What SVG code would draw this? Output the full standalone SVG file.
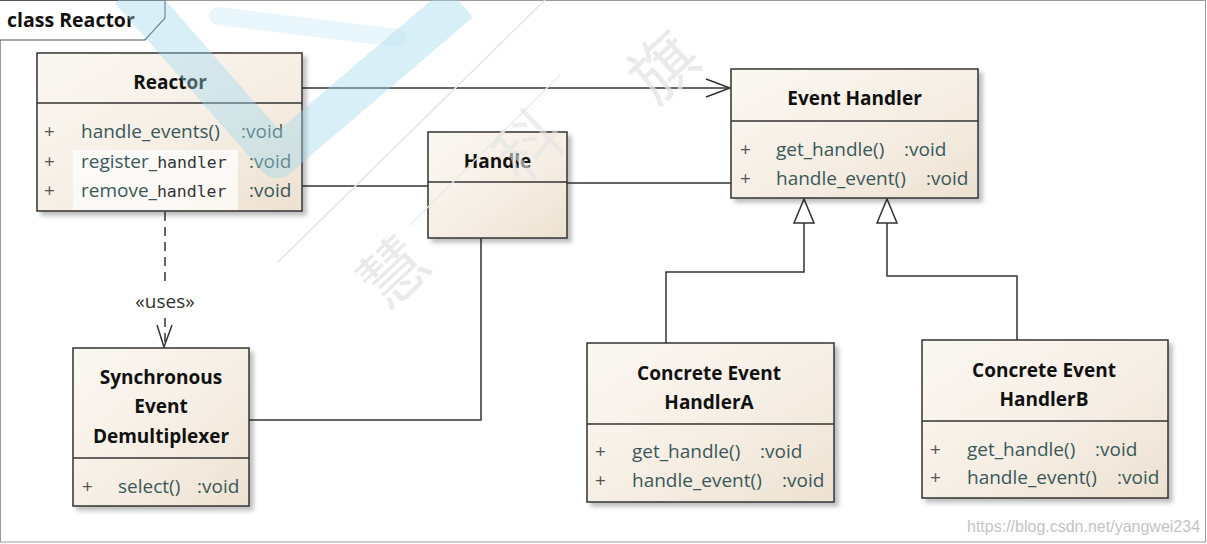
<svg xmlns="http://www.w3.org/2000/svg" width="1207" height="544" viewBox="0 0 1207 544">
<defs>
<linearGradient id="boxg" x1="0" y1="0" x2="1" y2="1">
<stop offset="0" stop-color="#fbf8f3"/>
<stop offset="0.6" stop-color="#f5ede3"/>
<stop offset="1" stop-color="#ede1d1"/>
</linearGradient>
<filter id="sh" x="-10%" y="-10%" width="130%" height="130%">
<feDropShadow dx="4" dy="4" stdDeviation="2" flood-color="#000" flood-opacity="0.25"/>
</filter>
</defs>
<style>
.box{fill:url(#boxg);stroke:#333;stroke-width:1.5;filter:url(#sh)}
.sep{stroke:#333;stroke-width:1.5}
.title{font-family:"Open Sans","Noto Sans",sans-serif;font-weight:bold;font-size:19px;fill:#111;text-anchor:middle}
.mem{font-family:"Open Sans","Noto Sans",sans-serif;font-size:19px;fill:#3b5858}
.plus{font-family:"Open Sans","Noto Sans",sans-serif;font-size:19px;fill:#555}
.mono{font-family:"DejaVu Sans Mono","Liberation Mono",monospace;font-size:16.5px;fill:#333}
.con{fill:none;stroke:#333;stroke-width:1.5}
.wm{font-family:"Noto Sans CJK SC",sans-serif;font-size:66px;fill:#e4e4e4}
</style>
<rect x="0" y="0" width="1207" height="544" fill="#fff"/>
<rect x="0.5" y="0.5" width="1205" height="541.5" fill="none" stroke="#999" stroke-width="1"/>
<g id="frame-tab">
<path d="M0,0.5 L165,0.5 L165,18 L145,40 L0,40" fill="#fff" stroke="#555" stroke-width="1.2"/>
<text x="7" y="27" style="font-family:'Open Sans','Noto Sans',sans-serif;font-weight:bold;font-size:19.5px;fill:#111">class Reactor</text>
</g>
<g id="connectors">
<path class="con" d="M302,88 L730,88"/>
<path d="M706,79 L730,88 L706,97" class="con"/>
<path class="con" d="M302,186 L428,186"/>
<path class="con" d="M567,183 L731,183"/>
<path class="con" d="M481,238 L481,420 L249,420"/>
<path class="con" d="M165,212 L165,282" stroke-dasharray="9,6"/>
<path class="con" d="M165,318 L165,347" stroke-dasharray="9,6"/>
<path class="con" d="M157,325 L164,347 L172,325"/>
<text x="165" y="308" style="font-family:'Open Sans','Noto Sans',sans-serif;font-size:19px;fill:#333;text-anchor:middle">«uses»</text>
<path class="con" d="M666,343 L666,272 L804,272 L804,223"/>
<path d="M804,199 L794,223 L814,223 Z" fill="#fff" stroke="#333" stroke-width="1.5"/>
<path class="con" d="M1017,340 L1017,276 L887,276 L887,223"/>
<path d="M887,199 L877,223 L897,223 Z" fill="#fff" stroke="#333" stroke-width="1.5"/>
</g>
<g id="reactor">
<rect class="box" x="37" y="53" width="265" height="158"/>
<line class="sep" x1="37" y1="103" x2="302" y2="103"/>
<text class="title" x="170" y="89">Reactor</text>
<rect x="73" y="150" width="165" height="30" fill="#fff" opacity="0.7"/>
<rect x="73" y="180" width="165" height="30" fill="#fff" opacity="0.7"/>
<text class="plus" x="44" y="138">+</text>
<text class="mem" x="81" y="138">handle_events()</text>
<text class="mem" x="241" y="138">:void</text>
<text class="plus" x="44" y="168">+</text>
<text class="mem" x="81" y="168">register_<tspan class="mono">handler</tspan></text>
<text class="mem" x="249" y="168">:void</text>
<text class="plus" x="44" y="197">+</text>
<text class="mem" x="81" y="197">remove_<tspan class="mono">handler</tspan></text>
<text class="mem" x="249" y="197">:void</text>
</g>
<g id="handle">
<rect class="box" x="428" y="132" width="139" height="106"/>
<line class="sep" x1="428" y1="182" x2="567" y2="182"/>
<text class="title" x="497.5" y="168">Handle</text>
</g>
<g id="event-handler">
<rect class="box" x="731" y="69" width="247" height="129"/>
<line class="sep" x1="731" y1="121" x2="978" y2="121"/>
<text class="title" x="854.5" y="105">Event Handler</text>
<text class="plus" x="740" y="156">+</text>
<text class="mem" x="776" y="156">get_handle()</text>
<text class="mem" x="904" y="156">:void</text>
<text class="plus" x="740" y="185">+</text>
<text class="mem" x="776" y="185">handle_event()</text>
<text class="mem" x="926" y="185">:void</text>
</g>
<g id="sync-demux">
<rect class="box" x="73" y="348" width="176" height="158"/>
<line class="sep" x1="73" y1="458" x2="249" y2="458"/>
<text class="title" x="161" y="384">Synchronous</text>
<text class="title" x="161" y="413">Event</text>
<text class="title" x="161" y="443">Demultiplexer</text>
<text class="plus" x="82" y="493">+</text>
<text class="mem" x="118" y="493">select()</text>
<text class="mem" x="197" y="493">:void</text>
</g>
<g id="concrete-a">
<rect class="box" x="587" y="343" width="247" height="159"/>
<line class="sep" x1="587" y1="424" x2="834" y2="424"/>
<text class="title" x="709" y="380">Concrete Event</text>
<text class="title" x="709" y="409">HandlerA</text>
<text class="plus" x="595" y="458">+</text>
<text class="mem" x="632" y="458">get_handle()</text>
<text class="mem" x="760" y="458">:void</text>
<text class="plus" x="595" y="487">+</text>
<text class="mem" x="632" y="487">handle_event()</text>
<text class="mem" x="782" y="487">:void</text>
</g>
<g id="concrete-b">
<rect class="box" x="922" y="340" width="246" height="158"/>
<line class="sep" x1="922" y1="421" x2="1168" y2="421"/>
<text class="title" x="1044" y="377">Concrete Event</text>
<text class="title" x="1044" y="406">HandlerB</text>
<text class="plus" x="930" y="456">+</text>
<text class="mem" x="967" y="456">get_handle()</text>
<text class="mem" x="1095" y="456">:void</text>
<text class="plus" x="930" y="484">+</text>
<text class="mem" x="967" y="484">handle_event()</text>
<text class="mem" x="1117" y="484">:void</text>
</g>
<g id="watermark">
<path d="M130,-10 L277,158 L460,2" fill="none" stroke="#9fd6ee" stroke-width="40" stroke-linejoin="round" opacity="0.4"/>
<path d="M218,16 L398,38" fill="none" stroke="#bfe4f4" stroke-width="18" stroke-linecap="round" opacity="0.35"/>
<line x1="277" y1="263" x2="545" y2="0" stroke="#e6e6e6" stroke-width="1.5"/>
<line x1="410" y1="225" x2="560" y2="75" stroke="#eaeaea" stroke-width="1.5"/>
<text class="wm" x="0" y="0" text-anchor="middle" transform="translate(410 290) rotate(-43)" opacity="0.75">慧</text>
<text class="wm" x="0" y="0" text-anchor="middle" transform="translate(545 163) rotate(-43)" opacity="0.6">科</text>
<text class="wm" x="0" y="0" text-anchor="middle" transform="translate(680 84) rotate(-43)" opacity="0.75">旗</text>
</g>
<text x="967" y="532" style="font-family:'Liberation Sans',Arial,sans-serif;font-size:16px;fill:#c4c4c4">https://blog.csdn.net/yangwei234</text>
</svg>
